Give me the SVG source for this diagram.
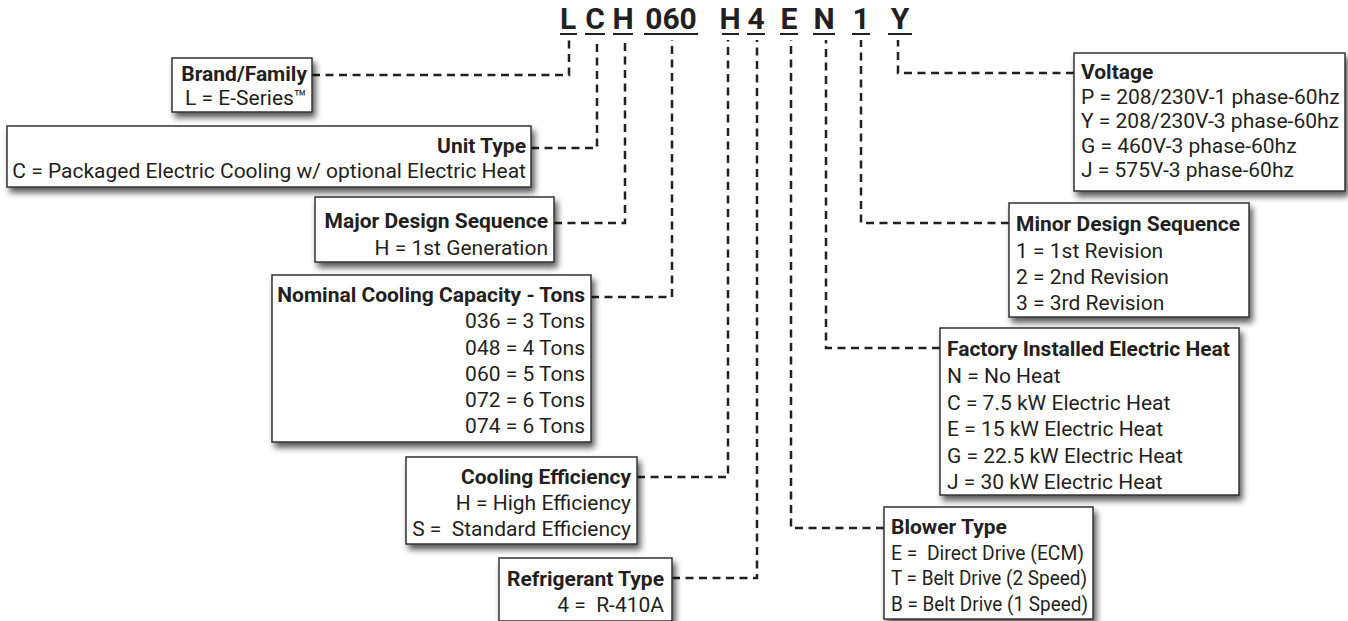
<svg xmlns="http://www.w3.org/2000/svg" width="1348" height="621" viewBox="0 0 1348 621">
<defs>
<filter id="sh" x="-10%" y="-20%" width="130%" height="160%">
<feGaussianBlur in="SourceAlpha" stdDeviation="3"/>
<feOffset dx="3" dy="5" result="b"/>
<feComponentTransfer><feFuncA type="linear" slope="0.65"/></feComponentTransfer>
<feMerge><feMergeNode/><feMergeNode in="SourceGraphic"/></feMerge>
</filter>
</defs>
<style>
text{font-family:Roboto,"Liberation Sans",sans-serif;fill:#231f20;white-space:pre}
.code{font-size:30px;font-weight:bold;text-anchor:middle}
.ul{stroke:#231f20;stroke-width:2}
.box{fill:#fff;stroke:#333;stroke-width:1.5;filter:url(#sh)}
.h{font-size:21px;font-weight:bold}
.t{font-size:21px}
.r text{text-anchor:end}
.conn path{fill:none;stroke:#231f20;stroke-width:2.5;stroke-dasharray:8 5.5}
</style>
<rect width="1348" height="621" fill="#fff"/>
<g id="code">
<text class="code" x="568" y="29">L</text>
<text class="code" x="595" y="29">C</text>
<text class="code" x="623" y="29">H</text>
<text class="code" x="671" y="29">060</text>
<text class="code" x="730" y="29">H</text>
<text class="code" x="756" y="29">4</text>
<text class="code" x="789" y="29">E</text>
<text class="code" x="824" y="29">N</text>
<text class="code" x="861" y="29">1</text>
<text class="code" x="900" y="29">Y</text>
<line class="ul" x1="560" y1="34" x2="577" y2="34"/>
<line class="ul" x1="585" y1="34" x2="605" y2="34"/>
<line class="ul" x1="613" y1="34" x2="633" y2="34"/>
<line class="ul" x1="644" y1="34" x2="698" y2="34"/>
<line class="ul" x1="722" y1="34" x2="739" y2="34"/>
<line class="ul" x1="747" y1="34" x2="765" y2="34"/>
<line class="ul" x1="780" y1="34" x2="798" y2="34"/>
<line class="ul" x1="813" y1="34" x2="835" y2="34"/>
<line class="ul" x1="852" y1="34" x2="870" y2="34"/>
<line class="ul" x1="888" y1="34" x2="912" y2="34"/>
</g>
<g id="connectors" class="conn">
<path d="M312,75 H569 V40"/>
<path d="M531,148 H597 V40"/>
<path d="M554,223 H625 V40"/>
<path d="M591,297 H672 V40"/>
<path d="M637,477 H728 V40"/>
<path d="M672,578 H757 V40"/>
<path d="M884,528 H791 V40"/>
<path d="M940,348 H826 V40"/>
<path d="M1009,223 H861 V40"/>
<path d="M1074,73 H898 V40"/>
</g>
<g id="brand" class="r">
<rect class="box" x="172" y="58" width="140" height="54"/>
<text class="h" x="307" y="81">Brand/Family</text>
<text class="t" x="307" y="105">L = E-Series™</text>
</g>
<g id="unittype" class="r">
<rect class="box" x="7" y="126" width="524" height="61"/>
<text class="h" x="526" y="153">Unit Type</text>
<text class="t" x="526" y="178">C = Packaged Electric Cooling w/ optional Electric Heat</text>
</g>
<g id="major" class="r">
<rect class="box" x="315" y="197" width="239" height="65"/>
<text class="h" x="548" y="228">Major Design Sequence</text>
<text class="t" x="548" y="255">H = 1st Generation</text>
</g>
<g id="nominal" class="r">
<rect class="box" x="272" y="275" width="319" height="167"/>
<text class="h" x="585" y="302">Nominal Cooling Capacity - Tons</text>
<text class="t" x="585" y="328">036 = 3 Tons</text>
<text class="t" x="585" y="355">048 = 4 Tons</text>
<text class="t" x="585" y="381">060 = 5 Tons</text>
<text class="t" x="585" y="407">072 = 6 Tons</text>
<text class="t" x="585" y="433">074 = 6 Tons</text>
</g>
<g id="cooling" class="r">
<rect class="box" x="406" y="457" width="231" height="87"/>
<text class="h" x="631" y="484">Cooling Efficiency</text>
<text class="t" x="631" y="510">H = High Efficiency</text>
<text class="t" x="631" y="536">S =  Standard Efficiency</text>
</g>
<g id="refrigerant" class="r">
<rect class="box" x="499" y="558" width="173" height="63"/>
<text class="h" x="664" y="586">Refrigerant Type</text>
<text class="t" x="664" y="612">4 =  R-410A</text>
</g>
<g id="voltage">
<rect class="box" x="1074" y="53" width="271" height="138"/>
<text class="h" x="1081" y="79">Voltage</text>
<text class="t" x="1081" y="104">P = 208/230V-1 phase-60hz</text>
<text class="t" x="1081" y="128">Y = 208/230V-3 phase-60hz</text>
<text class="t" x="1081" y="153">G = 460V-3 phase-60hz</text>
<text class="t" x="1081" y="177">J = 575V-3 phase-60hz</text>
</g>
<g id="minor">
<rect class="box" x="1009" y="203" width="240" height="114"/>
<text class="h" x="1016" y="231">Minor Design Sequence</text>
<text class="t" x="1016" y="258">1 = 1st Revision</text>
<text class="t" x="1016" y="284">2 = 2nd Revision</text>
<text class="t" x="1016" y="310">3 = 3rd Revision</text>
</g>
<g id="factory">
<rect class="box" x="940" y="328" width="299" height="167"/>
<text class="h" x="947" y="356">Factory Installed Electric Heat</text>
<text class="t" x="947" y="383">N = No Heat</text>
<text class="t" x="947" y="410">C = 7.5 kW Electric Heat</text>
<text class="t" x="947" y="436">E = 15 kW Electric Heat</text>
<text class="t" x="947" y="463">G = 22.5 kW Electric Heat</text>
<text class="t" x="947" y="489">J = 30 kW Electric Heat</text>
</g>
<g id="blower">
<rect class="box" x="884" y="507" width="209" height="112"/>
<text class="h" x="891" y="534">Blower Type</text>
<text class="t" x="891" y="560" textLength="193" lengthAdjust="spacingAndGlyphs">E =  Direct Drive (ECM)</text>
<text class="t" x="891" y="585" textLength="196" lengthAdjust="spacingAndGlyphs">T = Belt Drive (2 Speed)</text>
<text class="t" x="891" y="611" textLength="197" lengthAdjust="spacingAndGlyphs">B = Belt Drive (1 Speed)</text>
</g>
</svg>
